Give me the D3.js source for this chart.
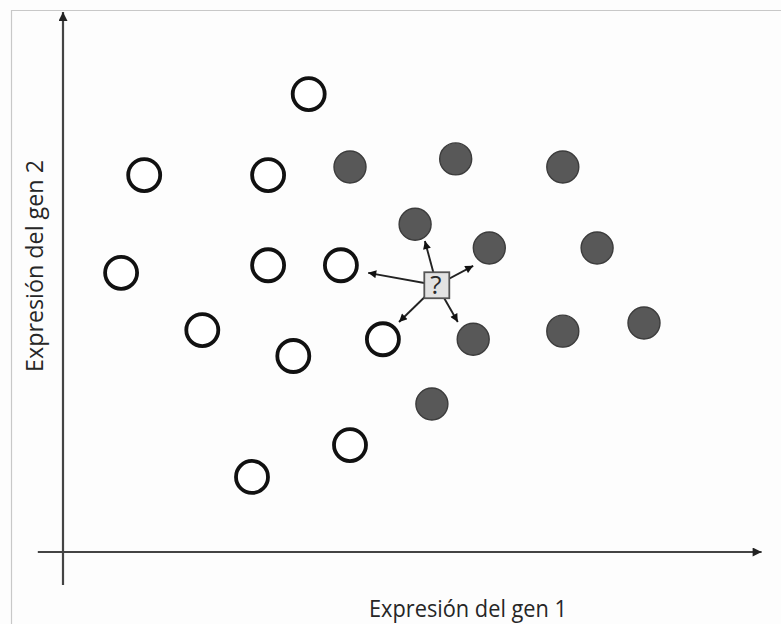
<!DOCTYPE html>
<html>
<head>
<meta charset="utf-8">
<script src="https://cdn.jsdelivr.net/npm/d3@7"></script>
<style>
  html, body { margin: 0; padding: 0; background: #fdfdfd; }
  svg { display: block; }
</style>
</head>
<body>
<svg id="chart" width="781" height="624"></svg>
<script>
// ---- Data (expression units, 0..10 on both axes) ----
const openX   = [3.51, 1.16, 2.93, 0.83, 2.93, 3.97, 1.99, 3.29, 4.57, 4.10, 2.70];
const openY   = [8.48, 6.98, 6.98, 5.17, 5.31, 5.31, 4.11, 3.63, 3.94, 1.98, 1.39];
const filledX = [4.10, 5.61, 7.14, 5.03, 6.09, 7.63, 5.86, 7.14, 8.30, 5.27];
const filledY = [7.13, 7.28, 7.13, 6.07, 5.63, 5.63, 3.94, 4.09, 4.24, 2.74];
const queryPoint = [5.34, 4.94];
const arrowTipX = [4.36, 5.17, 5.86, 4.80, 5.64];
const arrowTipY = [5.17, 5.76, 5.30, 4.26, 4.26];
const xLabel = "Expresión del gen 1";
const yLabel = "Expresión del gen 2";

const svg = d3.select("#chart");
const x = d3.scaleLinear().domain([0, 10]).range([63, 763]);
const y = d3.scaleLinear().domain([0, 10]).range([552, 12]);

// frame
svg.append("path")
  .attr("d", "M11.5,624 V10.5 H781")
  .attr("fill", "none").attr("stroke", "#c8c8c8").attr("stroke-width", 1.2);

const defs = svg.append("defs");
defs.append("marker").attr("id", "axisHead")
  .attr("viewBox", "0 0 10 10").attr("refX", 10).attr("refY", 5)
  .attr("markerUnits", "userSpaceOnUse")
  .attr("markerWidth", 10).attr("markerHeight", 9).attr("orient", "auto")
  .append("path").attr("d", "M0,0 L10,5 L0,10 Z").attr("fill", "#222");
defs.append("marker").attr("id", "smallHead")
  .attr("viewBox", "0 0 10 10").attr("refX", 10).attr("refY", 5)
  .attr("markerUnits", "userSpaceOnUse")
  .attr("markerWidth", 10).attr("markerHeight", 8).attr("orient", "auto")
  .append("path").attr("d", "M0,0 L10,5 L0,10 Z").attr("fill", "#111");

// axes
svg.append("line")
  .attr("x1", x(-0.36)).attr("y1", y(0)).attr("x2", x(9.98)).attr("y2", y(0))
  .attr("stroke", "#444").attr("stroke-width", 2.2).attr("marker-end", "url(#axisHead)");
svg.append("line")
  .attr("x1", x(0)).attr("y1", y(-0.61)).attr("x2", x(0)).attr("y2", y(10))
  .attr("stroke", "#444").attr("stroke-width", 2.2).attr("marker-end", "url(#axisHead)");

// axis labels
svg.append("text")
  .attr("x", 468).attr("y", 617)
  .attr("text-anchor", "middle")
  .attr("font-family", "Open Sans, sans-serif").attr("font-size", 23.5)
  .attr("fill", "#262626")
  .attr("textLength", 198).attr("lengthAdjust", "spacingAndGlyphs")
  .text(xLabel);
svg.append("text")
  .attr("transform", "translate(43,266) rotate(-90)")
  .attr("text-anchor", "middle")
  .attr("font-family", "Open Sans, sans-serif").attr("font-size", 23.5)
  .attr("fill", "#262626")
  .attr("textLength", 212).attr("lengthAdjust", "spacingAndGlyphs")
  .text(yLabel);

// arrows from query to neighbours
const arrows = arrowTipX.map((v, i) => ({ x: v, y: arrowTipY[i] }));
svg.append("g").selectAll("line").data(arrows).join("line")
  .attr("x1", x(queryPoint[0])).attr("y1", y(queryPoint[1]))
  .attr("x2", d => x(d.x)).attr("y2", d => y(d.y))
  .attr("stroke", "#222").attr("stroke-width", 1.9)
  .attr("marker-end", "url(#smallHead)");

// open circles
const openPts = openX.map((v, i) => ({ x: v, y: openY[i] }));
svg.append("g").selectAll("circle").data(openPts).join("circle")
  .attr("cx", d => x(d.x)).attr("cy", d => y(d.y)).attr("r", 16)
  .attr("fill", "#fff").attr("stroke", "#111").attr("stroke-width", 3.8);

// filled circles
const filledPts = filledX.map((v, i) => ({ x: v, y: filledY[i] }));
svg.append("g").selectAll("circle").data(filledPts).join("circle")
  .attr("cx", d => x(d.x)).attr("cy", d => y(d.y)).attr("r", 16)
  .attr("fill", "#585858").attr("stroke", "#3c3c3c").attr("stroke-width", 1.4);

// query square
const qx = x(queryPoint[0]), qy = y(queryPoint[1]);
svg.append("rect")
  .attr("x", qx - 12.5).attr("y", qy - 13).attr("width", 25).attr("height", 26)
  .attr("fill", "#e2e2e2").attr("stroke", "#555").attr("stroke-width", 1.8);
svg.append("text")
  .attr("x", qx - 1).attr("y", qy + 9)
  .attr("text-anchor", "middle")
  .attr("font-family", "Open Sans, sans-serif").attr("font-size", 26)
  .attr("fill", "#2a2a2a")
  .text("?");
</script>
</body>
</html>
